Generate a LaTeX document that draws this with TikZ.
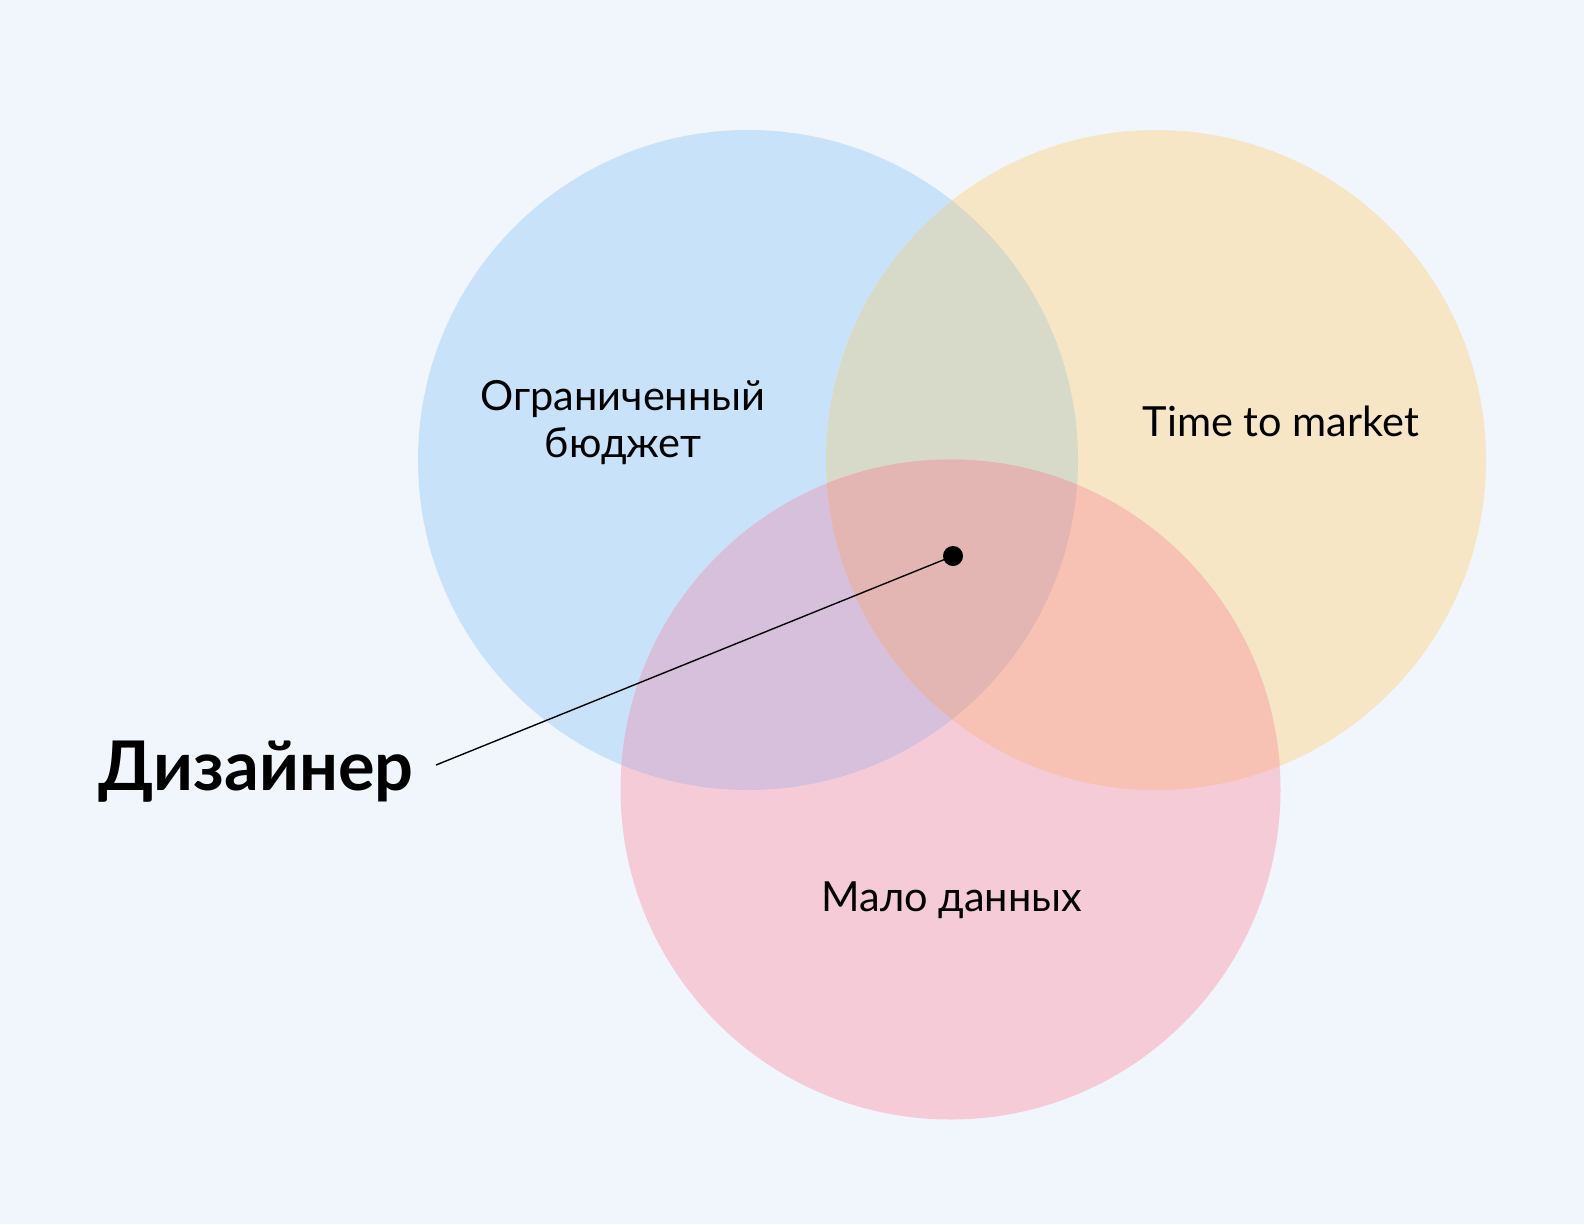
\documentclass[tikz,border=0pt]{standalone}
\usepackage{fontspec}
\setmainfont{Lato}
\definecolor{bg}{HTML}{F1F5FC}
\definecolor{cblue}{HTML}{C8E2F9}
\definecolor{cyellow}{HTML}{F6E6C6}
\definecolor{cpink}{HTML}{F5CBD8}
\definecolor{cby}{HTML}{D7DAC8}
\definecolor{cbp}{HTML}{D7C0DB}
\definecolor{cyp}{HTML}{F7C2B3}
\definecolor{call}{HTML}{E3B5B3}
\tikzset{
  lbl/.style={font=\fontsize{41.5}{47}\selectfont, text=black, inner sep=0pt, anchor=base},
  big/.style={font=\fontsize{68.5}{72}\selectfont\bfseries, text=black, inner sep=0pt, anchor=base},
  dotnode/.style={circle, fill=black, minimum size=20pt, inner sep=0pt},
  conn/.style={draw=black, line width=1.4pt}
}
\begin{document}
\begin{tikzpicture}[x=1pt,y=-1pt]
\useasboundingbox (0,0) rectangle (1584,1224);
\fill[bg] (0,0) rectangle (1584,1224);
\def\rr{330}
\fill[cblue] (748,460) circle (\rr);
\fill[cyellow] (1156,460) circle (\rr);
\fill[cpink] (950.5,789.5) circle (\rr);
\begin{scope}
  \clip (748,460) circle (\rr);
  \fill[cby] (1156,460) circle (\rr);
  \fill[cbp] (950.5,789.5) circle (\rr);
\end{scope}
\begin{scope}
  \clip (1156,460) circle (\rr);
  \fill[cyp] (950.5,789.5) circle (\rr);
\end{scope}
\begin{scope}
  \clip (748,460) circle (\rr);
  \clip (1156,460) circle (\rr);
  \fill[call] (950.5,789.5) circle (\rr);
\end{scope}
\node[lbl] (b1) at (623,410) {Ограниченный};
\node[lbl] (b2) at (623,457) {бюджет};
\node[lbl] (t) at (1281,436) {Time to market};
\node[lbl] (m) at (952,911) {Мало данных};
\node[big] (dz) at (256,790) {Дизайнер};
\node[dotnode] (d) at (953,556) {};
\coordinate (e) at (436,765);
\draw[conn] (d.center) -- (e);
\end{tikzpicture}
\end{document}
